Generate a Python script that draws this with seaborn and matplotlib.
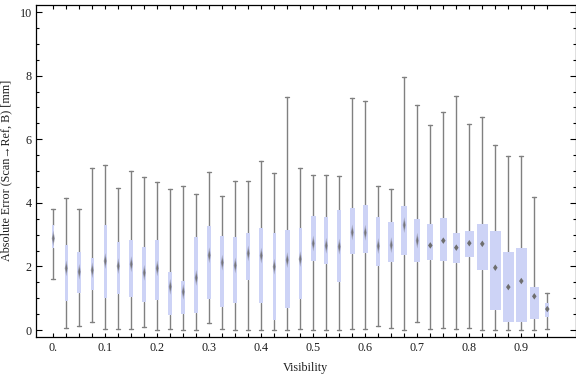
import numpy as np
import pandas as pd
import matplotlib
matplotlib.use("Agg")
import matplotlib.pyplot as plt
from matplotlib.path import Path
from matplotlib.ticker import MultipleLocator
import seaborn as sns

# ---------------- data ----------------
visibility = [0.0, 0.025, 0.05, 0.075, 0.1, 0.125, 0.15, 0.175, 0.2, 0.225,
              0.25, 0.275, 0.3, 0.325, 0.35, 0.375, 0.4, 0.425, 0.45, 0.475,
              0.5, 0.525, 0.55, 0.575, 0.6, 0.625, 0.65, 0.675, 0.7, 0.725,
              0.75, 0.775, 0.8, 0.825, 0.85, 0.875, 0.9, 0.925, 0.95]
whisker_low = [1.62, 0.05, 0.12, 0.24, 0.02, 0.02, 0.02, 0.08, 0.00, 0.02,
               0.00, 0.00, 0.21, 0.02, 0.00, 0.00, 0.00, 0.00, 0.00, 0.03,
               0.00, 0.00, 0.00, 0.03, 0.03, 0.12, 0.05, 0.00, 0.24, 0.03,
               0.05, 0.03, 0.05, 0.00, 0.00, 0.00, 0.00, 0.00, 0.02]
q1 = [2.57, 0.92, 1.17, 1.25, 1.02, 1.14, 1.05, 0.89, 0.95, 0.48,
      0.51, 0.54, 0.98, 0.73, 0.86, 1.57, 0.86, 0.30, 0.69, 0.98,
      2.17, 2.08, 1.52, 2.40, 2.43, 2.02, 2.14, 2.36, 2.14, 2.20,
      2.17, 2.12, 2.30, 1.88, 0.64, 0.26, 0.26, 0.36, 0.41]
median = [2.88, 1.94, 1.83, 1.88, 2.17, 2.01, 2.07, 1.80, 1.94, 1.36,
          1.20, 1.64, 2.35, 2.12, 2.03, 2.41, 2.34, 1.99, 2.20, 2.23,
          2.72, 2.65, 2.62, 3.07, 3.06, 2.64, 2.67, 3.30, 2.81, 2.66,
          2.81, 2.59, 2.73, 2.71, 1.96, 1.35, 1.54, 1.06, 0.66]
q3 = [3.30, 2.67, 2.45, 2.26, 3.30, 2.76, 2.83, 2.60, 2.83, 1.84,
      1.54, 2.92, 3.27, 2.95, 2.92, 3.04, 3.20, 3.05, 3.14, 3.20,
      3.58, 3.55, 3.76, 3.83, 3.92, 3.55, 3.39, 3.90, 3.49, 3.33,
      3.52, 3.05, 3.11, 3.33, 3.11, 2.45, 2.57, 1.35, 0.85]
whisker_high = [3.79, 4.16, 3.82, 5.08, 5.20, 4.48, 4.99, 4.80, 4.64, 4.45,
                4.54, 4.29, 4.98, 4.23, 4.68, 4.70, 5.33, 4.95, 7.34, 5.08,
                4.88, 4.86, 4.83, 7.31, 7.21, 4.54, 4.42, 7.95, 7.09, 6.46,
                6.87, 7.37, 6.49, 6.70, 5.82, 5.48, 5.48, 4.17, 1.15]
# relative box width (sample weight), in visibility units
box_width = [0.0040, 0.0060, 0.0080, 0.0065, 0.0065, 0.0062, 0.0070, 0.0075, 0.0075, 0.0077,
             0.0077, 0.0077, 0.0077, 0.0077, 0.0084, 0.0083, 0.0083, 0.0052, 0.0095, 0.0058,
             0.0095, 0.0077, 0.0083, 0.0096, 0.0102, 0.0083, 0.0115, 0.0115, 0.0115, 0.0121,
             0.0135, 0.0135, 0.0173, 0.0206, 0.0206, 0.0212, 0.0217, 0.0167, 0.0083]
x_label_values = [0.0, 0.1, 0.2, 0.3, 0.4, 0.5, 0.6, 0.7, 0.8, 0.9]
x_label_texts = ["0.", "0.1", "0.2", "0.3", "0.4", "0.5", "0.6", "0.7", "0.8", "0.9"]
y_ticks = [0, 2, 4, 6, 8, 10]

# ---------------- style ----------------
sns.set_theme(style="ticks")
plt.rcParams['font.family'] = ['Liberation Serif', 'DejaVu Serif']
plt.rcParams['patch.force_edgecolor'] = False
text_color = "#1e1e1e"
box_color = "#cdd3f6"
whisker_color = "#808080"

W, H = 576, 377
fig = plt.figure(figsize=(W / 100, H / 100), dpi=100)
ax = fig.add_axes([36 / W, 1 - 336.7 / H, (575.7 - 36) / W, (336.7 - 4.7) / H])

stats = [dict(whislo=lo, q1=a, med=m, q3=b, whishi=hi, fliers=[])
         for lo, a, m, b, hi in zip(whisker_low, q1, median, q3, whisker_high)]
parts = ax.bxp(stats, positions=visibility, widths=box_width, capwidths=0.008,
               patch_artist=True, showfliers=False, manage_ticks=False,
               boxprops=dict(facecolor=box_color, edgecolor="none", linewidth=0),
               whiskerprops=dict(color=whisker_color, linewidth=1.0),
               capprops=dict(color=whisker_color, linewidth=1.0),
               medianprops=dict(linewidth=0))
for b in parts["boxes"]:
    b.set_edgecolor("none")
    b.set_linewidth(0)
    b.set_zorder(3)

df = pd.DataFrame(dict(visibility=visibility, median=median))
thin = df[df.visibility < 0.72]
crisp = df[df.visibility >= 0.72]

tall_diamond = Path([(0, 1), (0.2, 0), (0, -1), (-0.2, 0), (0, 1)],
                    [Path.MOVETO, Path.LINETO, Path.LINETO, Path.LINETO, Path.CLOSEPOLY])
diamond = Path([(0, 1), (0.7, 0), (0, -1), (-0.7, 0), (0, 1)],
               [Path.MOVETO, Path.LINETO, Path.LINETO, Path.LINETO, Path.CLOSEPOLY])

sns.scatterplot(data=thin, x="visibility", y="median", marker=tall_diamond, s=130,
                color="#a3a6bd", edgecolor="none", linewidth=0, ax=ax, zorder=5, legend=False)
sns.scatterplot(data=thin, x="visibility", y="median", marker=tall_diamond, s=45,
                color="#747478", edgecolor="none", linewidth=0, ax=ax, zorder=6, legend=False)
sns.scatterplot(data=crisp, x="visibility", y="median", marker=diamond, s=22,
                color="#6e6e6e", edgecolor="none", linewidth=0, ax=ax, zorder=6, legend=False)

ax.set_xlim(-0.0333, 1.0046)
ax.set_ylim(-0.21, 10.23)

label_map = {round(v, 3): t for v, t in zip(x_label_values, x_label_texts)}
ax.set_xticks(visibility, labels=[label_map.get(round(v, 3), "") for v in visibility])
ax.set_yticks(y_ticks, labels=[str(t) for t in y_ticks])
ax.yaxis.set_minor_locator(MultipleLocator(0.5))

for s in ax.spines.values():
    s.set_visible(True)
    s.set_color("black")
    s.set_linewidth(0.9)

ax.tick_params(axis="x", which="major", direction="in", top=True, bottom=True,
               length=3.2, width=0.8, color="black", pad=3.5,
               labelsize=8.7, labelcolor=text_color)
ax.tick_params(axis="y", which="major", direction="in", left=True, right=True,
               length=4, width=0.8, color="black", pad=3,
               labelsize=8.7, labelcolor=text_color)
ax.tick_params(axis="y", which="minor", direction="in", left=True, right=True,
               length=2.2, width=0.8, color="black")

ax.set_xlabel("Visibility", fontsize=8.7, color=text_color)
ax.set_ylabel("Absolute Error (Scan\u2192Ref, B) [mm]", fontsize=8.7, color=text_color)
ax.xaxis.set_label_coords(0.5, -0.076)
ax.yaxis.set_label_coords(-0.043, 0.5)
ax.grid(False)

fig.savefig("out.png", dpi=100)
